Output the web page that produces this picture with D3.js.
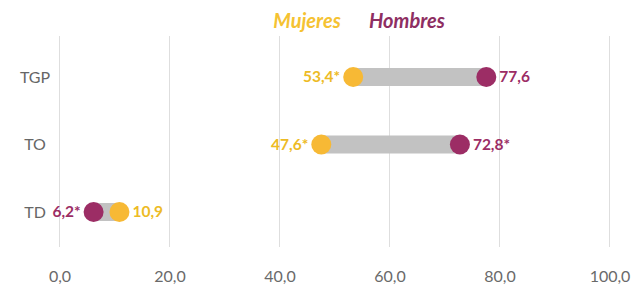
<!DOCTYPE html>
<html>
<head>
<meta charset="utf-8">
<script src="https://cdn.jsdelivr.net/npm/d3@7"></script>
<style>
  body { margin: 0; background: #fff; }
  svg text { font-family: Lato, "Open Sans", sans-serif; }
  .tick-label { fill: #6a6a6a; font-size: 16px; }
  .cat-label { fill: #666; font-size: 16px; }
  .val-label { font-size: 15.5px; font-weight: bold; }
  .legend { font-size: 20px; font-weight: bold; font-style: italic; }
</style>
</head>
<body>
<div id="visualization"></div>
<script>
// data
const categories = ['TGP', 'TO', 'TD']
const mujeres = [53.4, 47.6, 10.9]
const hombres = [77.6, 72.8, 6.2]
const mujeresLabels = ['53,4*', '47,6*', '10,9']
const hombresLabels = ['77,6', '72,8*', '6,2*']
const ticks = [0, 20, 40, 60, 80, 100]

const w = 635
const h = 293
const yellow = '#F7B935'
const purple = '#9C2D65'

const xScale = d3.scaleLinear()
  .domain([0, 100])
  .range([59.5, 609.5])

const yScale = d3.scalePoint()
  .domain(categories)
  .range([77, 212])

const svg = d3.select('#visualization')
  .append('svg')
  .attr('width', w)
  .attr('height', h)

//GRIDLINES
svg.append('g')
  .selectAll('line')
  .data(ticks)
  .enter()
  .append('line')
  .attr('x1', d => xScale(d))
  .attr('x2', d => xScale(d))
  .attr('y1', 36)
  .attr('y2', 247)
  .attr('stroke', '#dedede')
  .attr('stroke-width', 1)

//X AXIS
const xaxis = d3.axisBottom(xScale)
  .tickValues(ticks)
  .tickSize(0)
  .tickFormat(d => d3.format('.1f')(d).replace('.', ','))

const gx = svg.append('g')
  .attr('transform', 'translate(0,268)')
  .call(xaxis)
gx.select('.domain').remove()
gx.selectAll('text').attr('class', 'tick-label').attr('fill', null)

//CATEGORY LABELS
svg.append('g')
  .selectAll('text')
  .data(categories)
  .enter()
  .append('text')
  .attr('class', 'cat-label')
  .attr('x', 35)
  .attr('y', d => yScale(d))
  .attr('dy', '0.35em')
  .attr('text-anchor', 'middle')
  .text(d => d)

const rows = categories.map((c, i) => ({ c, m: mujeres[i], h: hombres[i], ml: mujeresLabels[i], hl: hombresLabels[i] }))

//BARS
svg.append('g')
  .selectAll('rect')
  .data(rows)
  .enter()
  .append('rect')
  .attr('x', d => xScale(Math.min(d.m, d.h)))
  .attr('width', d => Math.abs(xScale(d.m) - xScale(d.h)))
  .attr('y', d => yScale(d.c) - 9)
  .attr('height', 18)
  .attr('fill', '#c2c2c2')

//DOTS
svg.append('g')
  .selectAll('circle.m')
  .data(rows)
  .enter()
  .append('circle')
  .attr('cx', d => xScale(d.m))
  .attr('cy', d => yScale(d.c))
  .attr('r', 10)
  .attr('fill', yellow)

svg.append('g')
  .selectAll('circle.h')
  .data(rows)
  .enter()
  .append('circle')
  .attr('cx', d => xScale(d.h))
  .attr('cy', d => yScale(d.c))
  .attr('r', 10)
  .attr('fill', purple)

//VALUE LABELS (left of the lower value, right of the higher)
rows.forEach(d => {
  const lo = d.m < d.h ? { v: d.m, t: d.ml, col: '#EDBB25' } : { v: d.h, t: d.hl, col: purple }
  const hi = d.m < d.h ? { v: d.h, t: d.hl, col: purple } : { v: d.m, t: d.ml, col: '#EDBB25' }
  svg.append('text')
    .attr('class', 'val-label')
    .attr('x', xScale(lo.v) - 13)
    .attr('y', yScale(d.c))
    .attr('dy', '0.35em')
    .attr('text-anchor', 'end')
    .attr('fill', lo.col)
    .text(lo.t)
  svg.append('text')
    .attr('class', 'val-label')
    .attr('x', xScale(hi.v) + 13)
    .attr('y', yScale(d.c))
    .attr('dy', '0.35em')
    .attr('fill', hi.col)
    .text(hi.t)
})

//LEGEND
svg.append('text')
  .attr('class', 'legend')
  .attr('x', 307)
  .attr('y', 21)
  .attr('dy', '0.35em')
  .attr('text-anchor', 'middle')
  .attr('fill', '#F5C232')
  .text('Mujeres')

svg.append('text')
  .attr('class', 'legend')
  .attr('x', 407)
  .attr('y', 21)
  .attr('dy', '0.35em')
  .attr('text-anchor', 'middle')
  .attr('fill', '#8E2E62')
  .text('Hombres')
</script>
</body>
</html>
